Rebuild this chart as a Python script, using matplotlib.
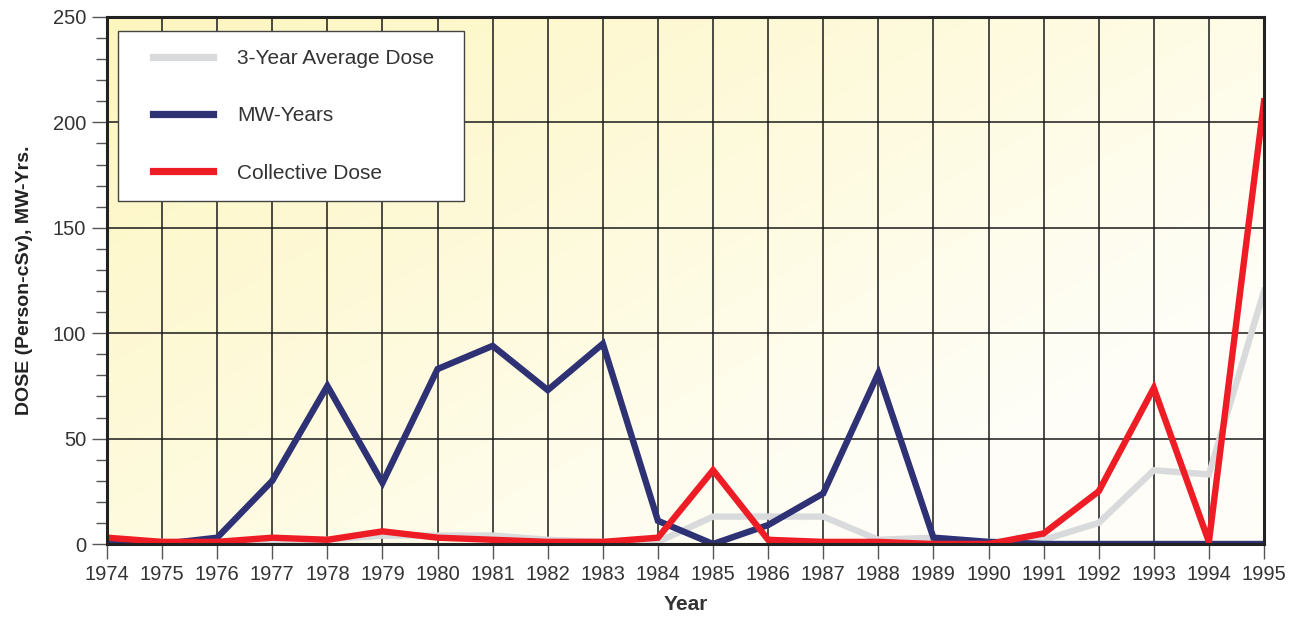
import numpy as np
import matplotlib
matplotlib.use("Agg")
import matplotlib.pyplot as plt
from matplotlib.ticker import MultipleLocator
from matplotlib.patches import Rectangle

years = list(range(1974, 1996))
avg3 = [1, 1, 1, 2, 2, 4, 4, 4, 2, 1, 1, 13, 13, 13, 2, 3, 1, 2, 10, 35, 33, 120]
mw_years = [0, 0, 3, 30, 75, 29, 83, 94, 73, 95, 11, 0, 9, 24, 81, 3, 1, 0, 0, 0, 0, 0]
coll_dose = [3, 1, 1, 3, 2, 6, 3, 2, 1, 1, 3, 35, 2, 1, 1, 0, 0, 5, 25, 74, 1, 210]
series_labels = ["3-Year Average Dose", "MW-Years", "Collective Dose"]

plt.rcParams["font.family"] = ["Liberation Sans", "DejaVu Sans"]

fig = plt.figure(figsize=(12.99, 6.29), dpi=100)
ax = fig.add_axes([107/1299, 1-544/629, (1264-107)/1299, (544-17)/629])

# background gradient (row 0 = top)
h, w = 200, 400
yy, xx = np.mgrid[0:1:h*1j, 0:1:w*1j]
s = np.clip(64 - 40*xx - 32*yy, 8, 70)
img = np.stack([255 - s*0.03, 255 - s*0.14, 255 - s], axis=-1) / 255
ax.imshow(img, extent=[0, 1, 0, 1], transform=ax.transAxes, aspect="auto", zorder=0)

lw = 4.6
ax.plot(years, avg3, color="#d9dadc", lw=lw, zorder=3, label=series_labels[0], solid_joinstyle="miter")
ax.plot(years, mw_years, color="#2e3174", lw=lw, zorder=4, label=series_labels[1], solid_joinstyle="miter")
ax.plot(years, coll_dose, color="#ee1c25", lw=lw, zorder=5, label=series_labels[2], solid_joinstyle="miter")

ax.set_xlim(1974, 1995)
ax.set_ylim(0, 250)
ax.set_xticks(years)
ax.set_xticklabels([str(y) for y in years])
ax.yaxis.set_major_locator(MultipleLocator(50))
ax.yaxis.set_minor_locator(MultipleLocator(10))
ax.grid(True, which="major", color="#1a1a1a", lw=1.1, zorder=1)
for gl in ax.get_xgridlines() + ax.get_ygridlines():
    gl.set_zorder(1)

ax.tick_params(axis="both", which="major", length=11, width=1.0, color="#555555",
               labelsize=14.5, labelcolor="#333333", pad=4)
ax.tick_params(axis="y", which="minor", length=8, width=1.0, color="#555555")
for sp in ax.spines.values():
    sp.set_linewidth(2.2)
    sp.set_color("#222222")
    sp.set_zorder(6)

ax.set_xlabel("Year", fontsize=15, fontweight="bold", color="#333333", labelpad=8)
ax.set_ylabel("DOSE (Person-cSv), MW-Yrs.", fontsize=14, fontweight="bold", color="#222222",
              labelpad=14)

# legend frame
frame = Rectangle((11/1157, (544-201)/527), (464-118)/1157, (201-31)/527,
                  transform=ax.transAxes, facecolor="white", edgecolor="#444444",
                  lw=1.0, zorder=7)
ax.add_patch(frame)
leg = ax.legend(loc="upper left", bbox_to_anchor=((153-107)/1157, (544-49)/527), fontsize=15,
                frameon=False, handlelength=2.9, handletextpad=1.15, labelspacing=1.84,
                borderpad=0, borderaxespad=0)
for t_ in leg.get_texts():
    t_.set_color("#333333")
for ln in leg.get_lines():
    ln.set_linewidth(5.2)
leg.set_zorder(8)

fig.savefig("out.png", dpi=100)
